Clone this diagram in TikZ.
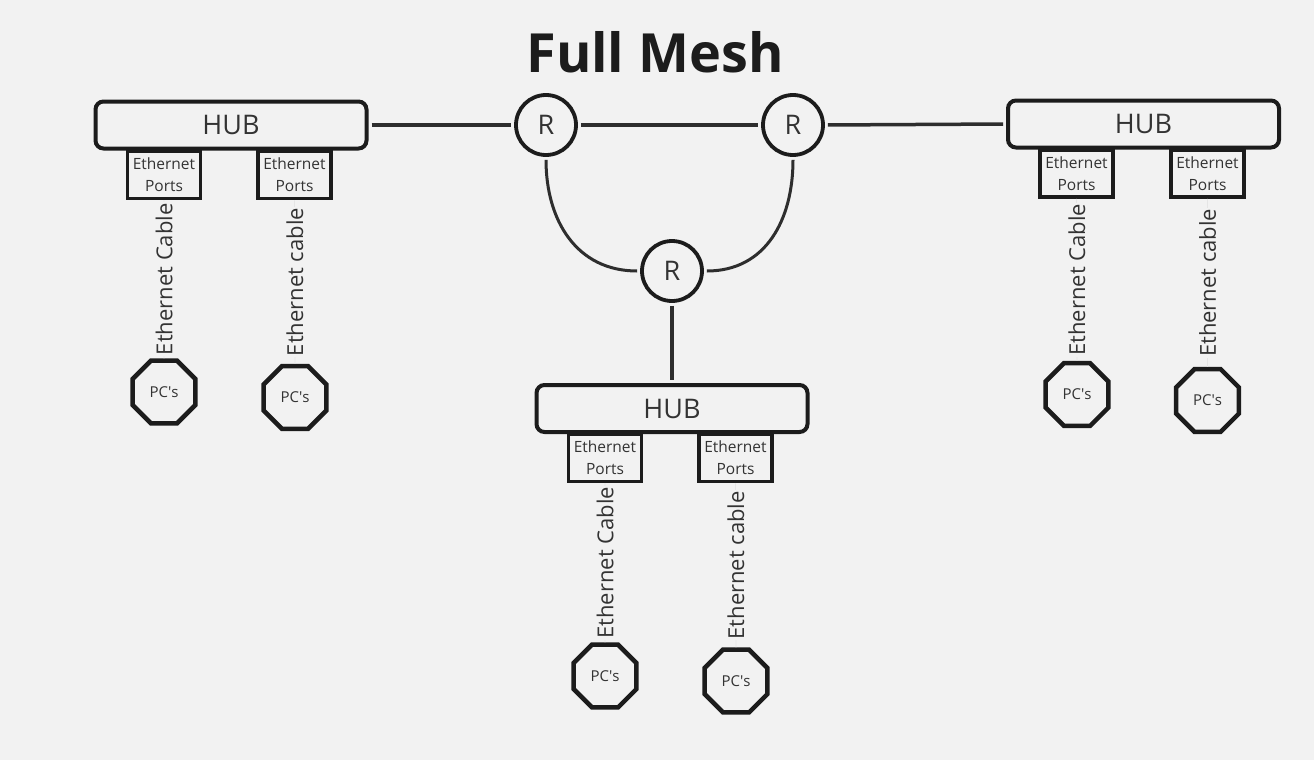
\documentclass[tikz,border=0pt]{standalone}
\usepackage{fontspec}
\setmainfont{Open Sans}
\usetikzlibrary{shapes.geometric}
\definecolor{bg}{HTML}{F2F2F2}
\definecolor{ink}{HTML}{1C1C1C}
\definecolor{txt}{HTML}{333333}
\definecolor{wirec}{HTML}{2E2E2E}
\newcommand{\apos}{\XeTeXglyph\XeTeXcharglyph"0027\relax}
\begin{document}
\begin{tikzpicture}[x=1pt,y=-1pt,
 hub/.style={draw=ink,line width=4pt,rounded corners=8pt,minimum width=271pt,minimum height=47pt,inner sep=0pt,fill=bg,text=txt,font=\fontsize{27}{27}\selectfont},
 port/.style={draw=ink,line width=3.5pt,minimum width=73pt,minimum height=47pt,inner sep=0pt,fill=bg,text=txt,align=center,font=\fontsize{15.5}{22}\selectfont},
 router/.style={circle,draw=ink,line width=3.8pt,minimum size=60pt,inner sep=0pt,fill=bg,text=txt,font=\fontsize{27}{27}\selectfont},
 pc/.style={regular polygon,regular polygon sides=8,draw=ink,line width=4.5pt,minimum size=68pt,inner sep=0pt,fill=bg,text=txt,font=\fontsize{15}{15}\selectfont},
 wire/.style={draw=wirec,line width=3.5pt,shorten <=3pt,shorten >=3pt},
 cable/.style={draw=black!10,line width=0.6pt},
 cablelabel/.style={rotate=90,fill=bg,inner sep=1pt,text=txt,font=\fontsize{22}{22}\selectfont},
]
\fill[bg] (0,0) rectangle (1314,760);
\useasboundingbox (0,0) rectangle (1314,760);

\node[text=ink,font=\fontsize{54}{54}\bfseries\selectfont] (title) at (655,52) {Full Mesh};

% ports first (hub border on top)
\node[port] (pL1) at (164,175) {Ethernet\\Ports};
\node[port] (pL2) at (294.5,175) {Ethernet\\Ports};
\node[port] (pR1) at (1076.5,173.5) {Ethernet\\Ports};
\node[port] (pR2) at (1207.5,173.5) {Ethernet\\Ports};
\node[port] (pC1) at (605,458) {Ethernet\\Ports};
\node[port] (pC2) at (735.5,458) {Ethernet\\Ports};

\node[hub] (hubL) at (231,125) {HUB};
\node[hub] (hubR) at (1143.5,124) {HUB};
\node[hub] (hubC) at (672,408.5) {HUB};

\node[router] (r1) at (546,125) {R};
\node[router] (r2) at (793,125) {R};
\node[router] (r3) at (672,271) {R};

\node[pc] (pcL1) at (164,392) {PC\apos s};
\node[pc] (pcL2) at (295,397.5) {PC\apos s};
\node[pc] (pcR1) at (1077,394.5) {PC\apos s};
\node[pc] (pcR2) at (1207.5,400.5) {PC\apos s};
\node[pc] (pcC1) at (605,676) {PC\apos s};
\node[pc] (pcC2) at (736,681) {PC\apos s};

% mesh connectors
\draw[wire] (hubL.east) -- (r1.west);
\draw[wire] (r1.east) -- (r2.west);
\draw[wire] (r2.east) -- (hubR.west);
\draw[wire,line width=3pt] (r1.south) to[out=-90,in=180,looseness=1.1] (r3.west);
\draw[wire,line width=3pt] (r2.south) to[out=-90,in=0,looseness=1.1] (r3.east);
\draw[wire] (r3.south) -- (hubC.north);

% ethernet cables
\draw[cable] (pL1.south) -- node[cablelabel]{Ethernet Cable} (pcL1.north);
\draw[cable] (pL2.south) -- node[cablelabel]{Ethernet cable} (pcL2.north);
\draw[cable] (pR1.south) -- node[cablelabel]{Ethernet Cable} (pcR1.north);
\draw[cable] (pR2.south) -- node[cablelabel]{Ethernet cable} (pcR2.north);
\draw[cable] (pC1.south) -- node[cablelabel]{Ethernet Cable} (pcC1.north);
\draw[cable] (pC2.south) -- node[cablelabel]{Ethernet cable} (pcC2.north);
\end{tikzpicture}
\end{document}
